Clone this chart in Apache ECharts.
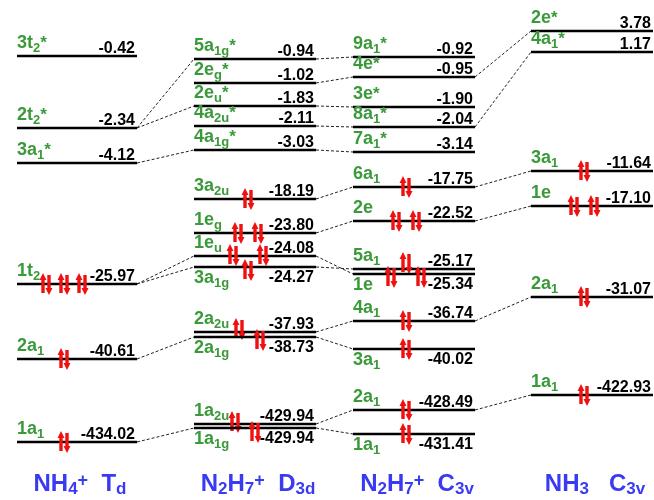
<!DOCTYPE html>
<html><head><meta charset="utf-8">
<script src="https://cdn.jsdelivr.net/npm/echarts@6/dist/echarts.min.js"></script>
<style>html,body{margin:0;padding:0;background:#fff}#chart{width:654px;height:500px}</style>
</head><body><div id="chart"></div>
<script>
// ---------------- data ----------------
const COLUMN_TITLES = ['NH{_4}{^+}  T{_d}', 'N{_2}H{_7}{^+}  D{_3d}', 'N{_2}H{_7}{^+}  C{_3v}', 'NH{_3}   C{_3v}'];

const NH4_ORBITALS = ['3t{_2}{^*}', '2t{_2}{^*}', '3a{_1}{^*}', '1t{_2}', '2a{_1}', '1a{_1}'];
const NH4_ENERGIES = [-0.42, -2.34, -4.12, -25.97, -40.61, -434.02];
const NH4_LEVELS   = [56, 128, 163, 284, 359, 442];
const NH4_PAIRS    = [0, 0, 0, 3, 1, 1];

const D3D_ORBITALS = ['5a{_1g}{^*}', '2e{_g}{^*}', '2e{_u}{^*}', '4a{_2u}{^*}', '4a{_1g}{^*}', '3a{_2u}', '1e{_g}', '1e{_u}', '3a{_1g}', '2a{_2u}', '2a{_1g}', '1a{_2u}', '1a{_1g}'];
const D3D_ENERGIES = [-0.94, -1.02, -1.83, -2.11, -3.03, -18.19, -23.80, -24.08, -24.27, -37.93, -38.73, -429.94, -429.94];
const D3D_LEVELS   = [59, 83, 106, 126, 150, 199, 233, 256, 267, 332, 337, 424, 428];
const D3D_PAIRS    = [0, 0, 0, 0, 0, 1, 2, 2, 1, 1, 1, 1, 1];

const C3V_ORBITALS = ['9a{_1}{^*}', '4e{^*}', '3e{^*}', '8a{_1}{^*}', '7a{_1}{^*}', '6a{_1}', '2e', '5a{_1}', '1e', '4a{_1}', '3a{_1}', '2a{_1}', '1a{_1}'];
const C3V_ENERGIES = [-0.92, -0.95, -1.90, -2.04, -3.14, -17.75, -22.52, -25.17, -25.34, -36.74, -40.02, -428.49, -431.41];
const C3V_LEVELS   = [57, 77, 107, 127, 152, 187, 221, 269, 274, 321, 349, 410, 434];
const C3V_PAIRS    = [0, 0, 0, 0, 0, 1, 2, 1, 2, 1, 1, 1, 1];

const NH3_ORBITALS = ['2e{^*}', '4a{_1}{^*}', '3a{_1}', '1e', '2a{_1}', '1a{_1}'];
const NH3_ENERGIES = [3.78, 1.17, -11.64, -17.10, -31.07, -422.93];
const NH3_LEVELS   = [31, 52, 171, 206, 297, 395];
const NH3_PAIRS    = [0, 0, 1, 2, 1, 1];

const CORR_TD_D3D = [['2t{_2}{^*}','5a{_1g}{^*}'], ['2t{_2}{^*}','2e{_u}{^*}'], ['3a{_1}{^*}','4a{_1g}{^*}'], ['1t{_2}','1e{_u}'], ['1t{_2}','3a{_1g}'], ['2a{_1}','2a{_1g}'], ['1a{_1}','1a{_1g}']];
const CORR_D3D_C3V = [['5a{_1g}{^*}','9a{_1}{^*}'], ['2e{_g}{^*}','4e{^*}'], ['2e{_u}{^*}','3e{^*}'], ['4a{_2u}{^*}','8a{_1}{^*}'], ['4a{_1g}{^*}','7a{_1}{^*}'], ['3a{_2u}','6a{_1}'], ['1e{_g}','2e'], ['1e{_u}','1e'], ['3a{_1g}','5a{_1}'], ['2a{_2u}','4a{_1}'], ['2a{_1g}','3a{_1}'], ['1a{_2u}','2a{_1}'], ['1a{_1g}','1a{_1}']];
const CORR_C3V_NH3 = [['4e{^*}','2e{^*}'], ['8a{_1}{^*}','4a{_1}{^*}'], ['6a{_1}','3a{_1}'], ['2e','1e'], ['4a{_1}','2a{_1}'], ['2a{_1}','1a{_1}']];

// ---------------- layout / style ----------------
const COLUMN_X = [[17,137],[194,316],[353,475],[531,653]];
const ELECTRON_X = [64, 248, 406, 584];
const TITLE_BASELINE = 491;
const BELOW = {1: ['3a{_1g}','2a{_1g}','1a{_1g}'], 2: ['1e','3a{_1}','1a{_1}']};
const ELECTRON_TWEAKS = {
  '0|1t{_2}': {gap:18},
  '1|1e{_u}': {gap:30, dy:-1},
  '1|3a{_1g}': {dy:3},
  '1|2a{_2u}': {dx:-9, dy:-3},
  '1|2a{_1g}': {dx:12, dy:3},
  '1|1a{_2u}': {dx:-13, dy:-2},
  '1|1a{_1g}': {dx:7, dy:4},
  '2|5a{_1}': {dy:-6},
  '2|1e': {gap:30, dy:3}
};
const FAMILY = '"Liberation Sans", Arial, Helvetica, sans-serif';
const GREEN = '#3a9a3a', BLUE = '#3a3af2', RED = '#f01010';
const LABEL_STYLE = {size:18, weight:'bold', subSize:13, subDy:4, supSize:17, supDy:0, fill:GREEN};
const TITLE_STYLE = {size:24, weight:'bold', subSize:17, subDy:3, supSize:18, supDy:-5, fill:BLUE};
const ENERGY_STYLE = {size:16, weight:'bold', subSize:16, subDy:0, supSize:16, supDy:0, fill:'#000'};

// ---------------- helpers ----------------
const mctx = document.createElement('canvas').getContext('2d');
function fontStr(size, weight){ return weight + ' ' + size + 'px ' + FAMILY; }
function measure(t, size, weight){ mctx.font = fontStr(size, weight); return mctx.measureText(t).width; }
const midCache = {};
function midOffset(size, weight){
  const k = size + weight;
  if (midCache[k] == null) {
    mctx.font = fontStr(size, weight); mctx.textBaseline = 'middle';
    const d = mctx.measureText('H').actualBoundingBoxDescent;
    midCache[k] = (typeof d === 'number' && isFinite(d)) ? d : 0.28 * size;
    mctx.textBaseline = 'alphabetic';
  }
  return midCache[k];
}
function parseRich(s){
  const out = []; const re = /\{([_^])([^}]*)\}|([^{]+)/g; let m;
  while ((m = re.exec(s))) {
    if (m[3]) out.push({t:m[3], k:'n'}); else out.push({t:m[2], k: m[1] === '_' ? 'sub' : 'sup'});
  }
  return out;
}
function richText(s, x, baseline, st, anchor){
  const segs = parseRich(s);
  const info = segs.map(g => {
    const size = g.k === 'n' ? st.size : (g.k === 'sub' ? st.subSize : st.supSize);
    const dy = g.k === 'n' ? 0 : (g.k === 'sub' ? st.subDy : st.supDy);
    return {t:g.t, size, dy, w: measure(g.t, size, st.weight)};
  });
  const total = info.reduce((a, b) => a + b.w, 0);
  let cx = anchor === 'center' ? x - total / 2 : (anchor === 'right' ? x - total : x);
  const children = [];
  info.forEach(g => {
    children.push({type:'text', silent:true, style:{
      text:g.t, x:cx, y: baseline + g.dy - midOffset(g.size, st.weight),
      font: fontStr(g.size, st.weight), fill: st.fill,
      align:'left', textAlign:'left', verticalAlign:'middle', textVerticalAlign:'middle'
    }});
    cx += g.w;
  });
  return children;
}
const SHAFT = 1.7, HEAD_W = 3.5, HEAD_H = 7;
function arrowUp(x, top, bottom){
  return [[x-SHAFT,bottom],[x-SHAFT,top+HEAD_H],[x-HEAD_W,top+HEAD_H],[x,top],[x+HEAD_W,top+HEAD_H],[x+SHAFT,top+HEAD_H],[x+SHAFT,bottom]];
}
function arrowDown(x, top, bottom){
  return [[x-SHAFT,top],[x-SHAFT,bottom-HEAD_H],[x-HEAD_W,bottom-HEAD_H],[x,bottom],[x+HEAD_W,bottom-HEAD_H],[x+SHAFT,bottom-HEAD_H],[x+SHAFT,top]];
}

// ---------------- assemble ----------------
const COLUMNS = [
  {orb:NH4_ORBITALS, en:NH4_ENERGIES, lv:NH4_LEVELS, pr:NH4_PAIRS},
  {orb:D3D_ORBITALS, en:D3D_ENERGIES, lv:D3D_LEVELS, pr:D3D_PAIRS},
  {orb:C3V_ORBITALS, en:C3V_ENERGIES, lv:C3V_LEVELS, pr:C3V_PAIRS},
  {orb:NH3_ORBITALS, en:NH3_ENERGIES, lv:NH3_LEVELS, pr:NH3_PAIRS}
];
const levelData = [], levelNames = [];
COLUMNS.forEach((c, ci) => c.orb.forEach((o, i) => {
  levelData.push([ci, c.lv[i], c.en[i], c.pr[i]]);
  levelNames.push(o);
}));
function levelOf(ci, name){ const c = COLUMNS[ci]; return c.lv[c.orb.indexOf(name)]; }
const corrData = [];
[CORR_TD_D3D, CORR_D3D_C3V, CORR_C3V_NH3].forEach((list, ci) => list.forEach(([a, b]) => {
  corrData.push([ci, levelOf(ci, a), ci + 1, levelOf(ci + 1, b)]);
}));
const titleData = COLUMN_TITLES.map((t, i) => [i, TITLE_BASELINE]);

const chart = echarts.init(document.getElementById('chart'), null, {renderer:'canvas'});
chart.setOption({
  animation:false,
  backgroundColor:'#fff',
  grid:{left:0, right:0, top:0, bottom:0},
  xAxis:{type:'value', min:0, max:654, show:false},
  yAxis:{type:'value', min:0, max:500, inverse:true, show:false},
  series:[
    {
      type:'custom', silent:true, data:corrData, z:1,
      renderItem:(params, api) => {
        const c0 = api.value(0), c1 = api.value(2);
        const p0 = api.coord([COLUMN_X[c0][1], api.value(1)]);
        const p1 = api.coord([COLUMN_X[c1][0], api.value(3)]);
        return {type:'line', shape:{x1:p0[0], y1:p0[1], x2:p1[0], y2:p1[1]},
          style:{stroke:'#222', lineWidth:1, lineDash:[3,2]}};
      }
    },
    {
      type:'custom', silent:true, data:levelData, z:2,
      renderItem:(params, api) => {
        const ci = api.value(0), level = api.value(1), energy = api.value(2), pairs = api.value(3);
        const name = levelNames[params.dataIndex];
        const [xa, xb] = COLUMN_X[ci];
        const p0 = api.coord([xa, level]), p1 = api.coord([xb, level]);
        const y = p0[1];
        const below = (BELOW[ci] || []).indexOf(name) >= 0;
        const children = [];
        children.push({type:'line', shape:{x1:p0[0], y1:y, x2:p1[0], y2:y}, style:{stroke:'#000', lineWidth:2.6}});
        const lb = below ? y + 16 : y - 8;
        const eb = below ? y + 15 : y - 3;
        children.push(...richText(name, p0[0], lb, LABEL_STYLE, 'left'));
        children.push(...richText(energy.toFixed(2), p1[0] - 2, eb, ENERGY_STYLE, 'right'));
        if (pairs > 0) {
          const tw = ELECTRON_TWEAKS[ci + '|' + name] || {};
          const gap = tw.gap || 20;
          const cxBase = api.coord([ELECTRON_X[ci] + (tw.dx || 0), level])[0];
          const cy = y + (tw.dy || 0);
          for (let k = 0; k < pairs; k++) {
            const cx = cxBase + (k - (pairs - 1) / 2) * gap;
            children.push({type:'polygon', shape:{points:arrowUp(cx - 3, cy - 11, cy + 9)}, style:{fill:RED}});
            children.push({type:'polygon', shape:{points:arrowDown(cx + 3, cy - 9, cy + 11)}, style:{fill:RED}});
          }
        }
        return {type:'group', children};
      }
    },
    {
      type:'custom', silent:true, data:titleData, z:3,
      renderItem:(params, api) => {
        const ci = api.value(0);
        const [xa, xb] = COLUMN_X[ci];
        const p = api.coord([(xa + xb) / 2 + 3, api.value(1)]);
        return {type:'group', children: richText(COLUMN_TITLES[ci], p[0], p[1], TITLE_STYLE, 'center')};
      }
    }
  ]
});
</script></body></html>
